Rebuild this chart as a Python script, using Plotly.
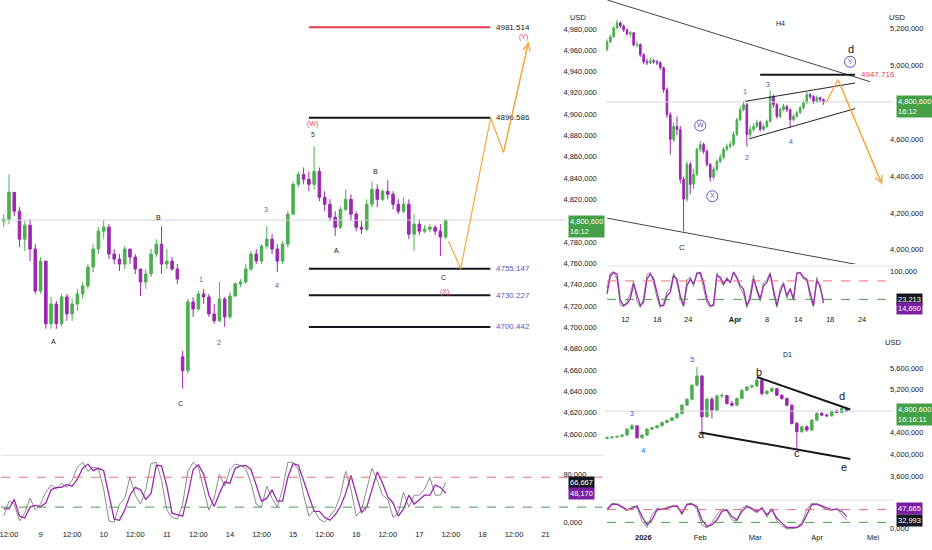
import plotly.graph_objects as go

# ---------------- main chart (XAUUSD, 2h bars) ----------------
main_t = list(range(-2, 168, 2))
main_close = [4801.5, 4826.7, 4809.0, 4782.8, 4795.9, 4773.5, 4734.2, 4762.2, 4703.4, 4722.0,
              4703.4, 4728.6, 4712.7, 4722.0, 4731.4, 4738.9, 4756.6, 4773.5, 4790.3, 4794.0,
              4768.8, 4764.1, 4759.4, 4773.5, 4766.0, 4754.8, 4742.6, 4750.1, 4768.8, 4778.1,
              4759.4, 4762.2, 4754.8, 4745.4, 4659.4, 4723.9, 4717.4, 4731.4, 4728.6, 4712.7,
              4706.2, 4726.7, 4709.9, 4729.5, 4740.8, 4742.6, 4754.8, 4768.8, 4762.2, 4776.3,
              4782.8, 4773.5, 4762.2, 4778.1, 4806.2, 4834.2, 4843.5, 4838.9, 4834.2, 4846.3,
              4822.0, 4815.5, 4803.4, 4794.0, 4810.8, 4820.2, 4806.2, 4794.0, 4792.1, 4815.5,
              4829.5, 4820.2, 4827.7, 4824.9, 4815.5, 4809.0, 4815.5, 4787.5, 4796.8, 4790.3,
              4792.1, 4794.0, 4790.3, 4784.7, 4800.6]
main_high = [4806.2, 4843.5, 4826.7, 4812.7, 4799.6, 4801.5, 4778.1, 4766.0, 4762.2, 4728.6,
             4724.8, 4731.4, 4731.4, 4726.7, 4736.1, 4742.6, 4759.4, 4778.1, 4794.0, 4800.6,
             4796.8, 4773.5, 4768.8, 4776.3, 4773.5, 4768.8, 4754.8, 4754.8, 4773.5, 4782.8,
             4794.9, 4773.5, 4766.0, 4759.4, 4678.1, 4726.7, 4728.6, 4734.2, 4736.1, 4731.4,
             4722.0, 4742.6, 4728.6, 4733.3, 4742.6, 4745.4, 4759.4, 4771.6, 4773.5, 4778.1,
             4794.9, 4787.5, 4778.1, 4780.9, 4809.0, 4837.0, 4846.3, 4850.1, 4846.3, 4869.7,
             4850.1, 4827.7, 4820.2, 4809.0, 4813.6, 4829.5, 4824.9, 4809.0, 4799.6, 4820.2,
             4837.0, 4834.2, 4829.5, 4837.9, 4827.7, 4820.2, 4822.0, 4820.2, 4806.2, 4801.5,
             4795.9, 4796.8, 4795.9, 4796.8, 4801.5]
main_low = [4794.0, 4796.8, 4804.3, 4775.3, 4771.6, 4762.2, 4731.4, 4731.4, 4698.7, 4698.7,
            4698.7, 4700.6, 4706.2, 4706.2, 4715.5, 4726.7, 4736.1, 4751.9, 4768.8, 4782.8,
            4764.1, 4759.4, 4752.9, 4754.8, 4759.4, 4750.1, 4729.5, 4736.1, 4747.3, 4766.0,
            4750.1, 4754.8, 4752.9, 4740.8, 4642.6, 4656.6, 4709.9, 4715.5, 4722.0, 4709.9,
            4703.4, 4705.2, 4700.6, 4708.0, 4728.6, 4737.9, 4740.8, 4752.9, 4759.4, 4759.4,
            4773.5, 4768.8, 4751.9, 4759.4, 4775.3, 4806.2, 4831.4, 4834.2, 4827.7, 4829.5,
            4818.3, 4809.0, 4799.6, 4785.6, 4792.1, 4809.0, 4799.6, 4790.3, 4787.5, 4790.3,
            4812.7, 4812.7, 4818.3, 4820.2, 4810.8, 4806.2, 4807.1, 4782.8, 4771.6, 4786.5,
            4788.4, 4789.3, 4786.5, 4766.9, 4782.8]
main_open = [4799.6] + main_close[:-1]
main_open[34] = 4672.5  # gap down into wave C

main_k = [10, 35, 30, 2, 15, 40, 20, 30, 50, 62, 55, 65, 58, 70, 92, 100, 85, 92, 90, 55,
          2, 0, 30, 40, 75, 45, 30, 55, 98, 100, 70, 20, 8, 5, 30, 85, 100, 92, 55, 20,
          40, 80, 60, 88, 97, 95, 90, 65, 30, 25, 60, 40, 25, 55, 100, 100, 88, 45, 10, 20,
          5, 0, 10, 22, 45, 85, 55, 10, 20, 55, 90, 70, 45, 38, 8, 15, 50, 25, 45, 45,
          55, 75, 45, 45, 66.667]
main_d = [22, 22, 38, 10, 7, 25, 28, 26, 32, 54, 58, 58, 63, 60, 72, 90, 97, 86, 90, 86,
          45, 5, 3, 20, 45, 58, 54, 38, 48, 95, 94, 60, 15, 12, 10, 45, 88, 96, 80, 45,
          26, 48, 67, 65, 90, 94, 95, 88, 60, 35, 40, 54, 35, 35, 75, 98, 95, 70, 42, 18,
          18, 8, 3, 12, 26, 48, 78, 45, 16, 25, 55, 84, 65, 42, 32, 10, 22, 45, 30, 37,
          45, 45, 62, 58, 48.17]

main_tick_t = [0, 12, 24, 36, 48, 60, 72, 84, 96, 108, 120, 132, 144, 156, 168, 180, 192, 204]
main_tick_txt = ["12:00", "9", "12:00", "10", "12:00", "11", "12:00", "14", "12:00", "15",
                 "12:00", "16", "12:00", "17", "12:00", "18", "12:00", "21"]
main_price_ticks = [v for v in range(4600, 5000, 20) if v != 4800]

levels = [4981.514, 4896.586, 4755.147, 4730.227, 4700.442]
level_t = [114, 183]
proj_t = [167.1, 171.7, 183.1, 188.0, 197.5]
proj_p = [4780.9, 4755.1, 4896.6, 4864.1, 4967.8]

# ---------------- H4 inset ----------------
h4_x = list(range(66))
h4_close = [5126, 5153, 5202, 5229, 5212, 5191, 5169, 5175, 5110, 5112,
            5056, 5018, 5013, 5024, 5018, 5013, 4986, 4867, 4732, 4598,
            4668, 4652, 4382, 4274, 4463, 4355, 4409, 4544, 4571, 4533,
            4463, 4393, 4436, 4479, 4500, 4544, 4560, 4571, 4625, 4705,
            4759, 4786, 4625, 4652, 4668, 4689, 4652, 4668, 4695, 4830,
            4786, 4722, 4759, 4776, 4759, 4705, 4722, 4743, 4770, 4797,
            4840, 4830, 4803, 4824, 4813, 4800.6]
h4_high = [5140, 5165, 5210, 5245, 5238, 5220, 5198, 5185, 5180, 5130,
           5118, 5065, 5035, 5040, 5035, 5030, 5022, 4992, 4880, 4745,
           4690, 4722, 4670, 4395, 4480, 4475, 4440, 4555, 4590, 4580,
           4545, 4470, 4450, 4490, 4520, 4555, 4575, 4590, 4640, 4715,
           4775, 4805, 4795, 4670, 4685, 4705, 4700, 4680, 4705, 4865,
           4840, 4795, 4770, 4790, 4785, 4765, 4735, 4755, 4780, 4810,
           4855, 4850, 4838, 4835, 4830, 4820]
h4_low = [5075, 5120, 5148, 5195, 5200, 5180, 5160, 5150, 5100, 5095,
          5045, 5005, 5000, 5005, 5008, 5000, 4975, 4850, 4715, 4516,
          4585, 4620, 4360, 4100, 4260, 4300, 4330, 4400, 4530, 4520,
          4450, 4370, 4380, 4425, 4470, 4490, 4535, 4550, 4560, 4615,
          4695, 4750, 4560, 4610, 4640, 4660, 4640, 4645, 4660, 4690,
          4770, 4710, 4715, 4750, 4745, 4660, 4695, 4715, 4735, 4760,
          4790, 4815, 4790, 4795, 4800, 4785]
h4_open = [5085] + h4_close[:-1]

h4_k = [55, 96, 100, 80, 10, 5, 20, 40, 75, 20, 3, 30, 92, 98, 70, 30, 2, 15, 45, 55,
        96, 70, 25, 5, 78, 85, 60, 99, 95, 55, 15, 3, 15, 97, 80, 62, 85, 70, 100, 80,
        55, 40, 2, 40, 90, 45, 20, 70, 78, 98, 40, 3, 55, 72, 28, 55, 22, 99, 97, 80,
        78, 30, 5, 85, 55, 23.213]
h4_d = [40, 89, 98, 94, 22, 8, 13, 26, 67, 35, 8, 17, 80, 94, 80, 44, 8, 8, 35, 44,
        89, 80, 35, 8, 62, 80, 67, 94, 98, 71, 26, 8, 8, 89, 85, 67, 80, 71, 98, 85,
        62, 53, 8, 26, 80, 53, 26, 62, 71, 94, 53, 8, 44, 67, 35, 53, 26, 94, 98, 85,
        80, 44, 8, 76, 62, 14.69]
h4_tick_x = [5.5, 15.1, 24.4, 38.5, 48.1, 57.4, 67.0, 76.6]
h4_tick_txt = ["12", "18", "24", "<b>Apr</b>", "8", "14", "18", "24"]
h4_price_ticks = [5200, 5000, 4600, 4400, 4200, 4000]
h4_level = 4947.716
h4_proj_x = [65.8, 69.4, 82.6]
h4_proj_p = [4797.1, 4921.2, 4354.7]

# ---------------- D1 inset ----------------
d1_x = list(range(49))
d1_close = [4307, 4319, 4332, 4356, 4467, 4528, 4307, 4356, 4467, 4492,
            4528, 4590, 4627, 4676, 4750, 4910, 5020, 5279, 5451, 4695,
            5020, 4818, 5082, 5090, 4941, 4910, 5033, 5187, 5248, 5266,
            5371, 5125, 5168, 5217, 5094, 5033, 4910, 4572, 4418, 4510,
            4449, 4633, 4756, 4725, 4713, 4799, 4775, 4848, 4800.6]
d1_high = [4335, 4335, 4345, 4370, 4480, 4560, 4540, 4370, 4480, 4510,
           4545, 4605, 4640, 4690, 4770, 4930, 5040, 5300, 5617, 5470,
           5040, 5060, 5110, 5130, 5100, 4990, 5050, 5200, 5265, 5290,
           5414, 5390, 5190, 5240, 5230, 5110, 5050, 4925, 4600, 4530,
           4540, 4650, 4780, 4790, 4760, 4820, 4830, 4870, 4865]
d1_low = [4280, 4295, 4305, 4320, 4345, 4455, 4290, 4280, 4345, 4450,
          4480, 4515, 4575, 4610, 4660, 4740, 4895, 5005, 5260, 4418,
          4680, 4664, 4800, 5040, 4920, 4880, 4895, 5020, 5170, 5220,
          5250, 5090, 5100, 5150, 5080, 5010, 4890, 4550, 4079, 4400,
          4420, 4435, 4620, 4705, 4695, 4700, 4760, 4765, 4790]
d1_open = [4295] + d1_close[:-1]

d1_k = [80, 100, 95, 82, 70, 88, 85, 30, 5, 55, 80, 75, 85, 90, 88, 55, 98, 100, 75, 15,
        3, 25, 55, 78, 70, 35, 30, 80, 92, 75, 62, 85, 45, 80, 30, 12, 0, 0, 5, 25,
        75, 100, 95, 85, 75, 72, 78, 55, 32.993]
d1_d = [74, 96, 96, 87, 74, 80, 90, 48, 16, 35, 74, 78, 80, 87, 90, 61, 94, 97, 87, 35,
        9, 16, 35, 68, 74, 48, 35, 68, 87, 80, 68, 80, 55, 74, 42, 22, 5, 5, 5, 16,
        55, 94, 97, 90, 80, 74, 78, 68, 47.665]
d1_tick_x = [7.26, 18.66, 29.66, 42.06, 53.26]
d1_tick_txt = ["<b>2026</b>", "Feb", "Mar", "Apr", "Mei"]
d1_price_ticks = [5600, 5200, 4400, 4000, 3600]

GREEN = "#4caf50"
PURPLE = "#9c27b0"
ORANGE = "#f5a742"
WAVE = "#5a55c0"
RED = "#ef3b5a"
FONT = "Liberation Sans"


def fmt(v):
    return f"{v:,},000"


fig = go.Figure()


def candles(xs, o, h, l, c, xa, ya):
    fig.add_trace(go.Candlestick(
        x=xs, open=o, high=h, low=l, close=c, xaxis=xa, yaxis=ya,
        increasing=dict(line=dict(color=GREEN, width=1), fillcolor=GREEN),
        decreasing=dict(line=dict(color=PURPLE, width=1), fillcolor=PURPLE),
        showlegend=False, hoverinfo="skip"))


def stoch(xs, k, d, xa, ya):
    fig.add_trace(go.Scatter(x=xs, y=k, mode="lines", xaxis=xa, yaxis=ya,
                             line=dict(color="#8a8a8a", width=1), showlegend=False))
    fig.add_trace(go.Scatter(x=xs, y=d, mode="lines", xaxis=xa, yaxis=ya,
                             line=dict(color=PURPLE, width=1.3), showlegend=False))


def seg(xs, ys, xa, ya, color="#131722", width=1, dash=None):
    fig.add_trace(go.Scatter(x=xs, y=ys, mode="lines", xaxis=xa, yaxis=ya,
                             line=dict(color=color, width=width, dash=dash),
                             showlegend=False, hoverinfo="skip"))


# current price lines
seg([-3, 212], [4800.6, 4800.6], "x", "y", "#d3d6de")
seg([-0.5, 86], [4800.6, 4800.6], "x3", "y3", "#d3d6de")
seg([-0.4, 57.3], [4800.6, 4800.6], "x5", "y5", "#d3d6de")

candles(main_t, main_open, main_high, main_low, main_close, "x", "y")
candles(h4_x, h4_open, h4_high, h4_low, h4_close, "x3", "y3")
candles(d1_x, d1_open, d1_high, d1_low, d1_close, "x5", "y5")

stoch(main_t, main_k, main_d, "x2", "y2")
stoch(h4_x, h4_k, h4_d, "x4", "y4")
stoch(d1_x, d1_k, d1_d, "x6", "y6")

# main chart levels and projection
for i, lv in enumerate(levels):
    seg(level_t, [lv, lv], "x", "y", "#e53950" if i == 0 else "#131722", 2)
seg(proj_t, proj_p, "x", "y", ORANGE, 1.2)

# H4 drawings
seg([0.1, 79.0], [5352.8, 4910.4], "x3", "y3", "#444", 1)
seg([0.1, 77.5], [4171.3, 3912.3], "x3", "y3", "#444", 1)
seg([41.5, 74.5], [4804.1, 4903.4], "x3", "y3", "#222", 1)
seg([42.7, 74.5], [4601.3, 4764.7], "x3", "y3", "#222", 1)
seg([46.0, 74.5], [h4_level, h4_level], "x3", "y3", "#131722", 2)
seg(h4_proj_x, h4_proj_p, "x3", "y3", ORANGE, 1.2)

# D1 drawings
seg([30, 48.7], [5432.6, 4829.9], "x5", "y5", "#131722", 2)
seg([18.66, 48.7], [4405.5, 3913.5], "x5", "y5", "#131722", 2)

# circled wave labels on H4
fig.add_trace(go.Scatter(
    x=[28.0, 31.6, 73.0], y=[4673.0, 4290.0, 5018.3], xaxis="x3", yaxis="y3",
    mode="markers+text", text=["W", "X", "Y"], textposition="middle center",
    textfont=dict(size=7, color=WAVE, family=FONT),
    marker=dict(symbol="circle-open", size=11, color=WAVE, line=dict(width=1)),
    showlegend=False, hoverinfo="skip"))

ann = []


def label(txt, x, y, xr, yr, color="#131722", size=7, **kw):
    ann.append(dict(text=txt, x=x, y=y, xref=xr, yref=yr, showarrow=False,
                    font=dict(color=color, size=size, family=FONT), **kw))


# main wave labels
for txt, x, y, col in [("A", 17.1, 4686.5, "#131722"), ("B", 57.0, 4803.5, "#131722"),
                       ("C", 65.3, 4628.6, "#131722"), ("1", 72.9, 4745.4, WAVE),
                       ("2", 79.8, 4685.6, WAVE), ("3", 97.6, 4810.8, WAVE),
                       ("4", 101.8, 4738.9, WAVE), ("5", 115.5, 4880.9, "#333"),
                       ("(W)", 115.5, 4890.8, RED), ("A", 124.6, 4772.5, "#131722"),
                       ("B", 139.4, 4846.3, "#131722"), ("C", 165.2, 4746.4, "#131722"),
                       ("(X)", 165.6, 4733.3, RED), ("(Y)", 195.6, 4972.5, RED)]:
    label(txt, x, y, "x", "y", col)

for i, lv in enumerate(levels):
    label(f"{lv:.3f}", 184.3, lv, "x", "y", "#131722" if i < 2 else WAVE, 8, xanchor="left")

# H4 labels
for txt, x, y, col, sz in [("H4", 52.0, 5223.3, "#131722", 7), ("d", 73.3, 5085, "#131722", 11),
                           ("1", 41.5, 4856.5, WAVE, 7), ("3", 48.4, 4894.2, WAVE, 7),
                           ("2", 42.1, 4500.4, WAVE, 7), ("4", 55.3, 4586.7, WAVE, 7),
                           ("C", 22.6, 4014.8, "#131722", 8)]:
    label(txt, x, y, "x3", "y3", col, sz)
label(f"{h4_level:.3f}", 75.8, h4_level, "x3", "y3", RED, 8, xanchor="left")

# D1 labels
for txt, x, y, col, sz in [("D1", 36.2, 5850.8, "#131722", 7), ("5", 17.2, 5758.5, "#2962ff", 8),
                           ("3", 5.0, 4756.0, "#2962ff", 7), ("4", 7.3, 4079.5, "#2962ff", 8),
                           ("a", 19.0, 4368.6, "#131722", 11), ("b", 30.5, 5524.8, "#131722", 11),
                           ("c", 38.1, 4018.0, "#131722", 11), ("d", 47.0, 5082.0, "#131722", 11),
                           ("e", 47.5, 3759.8, "#131722", 11)]:
    label(txt, x, y, "x5", "y5", col, sz)

# arrowheads of projections
ann.append(dict(x=proj_t[-1], y=proj_p[-1], ax=proj_t[-2], ay=proj_p[-2], xref="x", yref="y",
                axref="x", ayref="y", showarrow=True, arrowhead=5, arrowsize=1.2,
                arrowwidth=1.2, arrowcolor=ORANGE, text=""))
ann.append(dict(x=h4_proj_x[-1], y=h4_proj_p[-1], ax=h4_proj_x[-2], ay=h4_proj_p[-2],
                xref="x3", yref="y3", axref="x3", ayref="y3", showarrow=True, arrowhead=5,
                arrowsize=1.2, arrowwidth=1.2, arrowcolor=ORANGE, text=""))


# price badges on the scales
def badge(txt, xp, y, yr, bg, shift=0):
    ann.append(dict(text=txt, x=xp, y=y, xref="paper", yref=yr, xanchor="left",
                    yanchor="middle", yshift=shift, showarrow=False, align="left",
                    bgcolor=bg, borderpad=1, font=dict(color="white", size=7.5, family=FONT)))


badge("4,800,600<br>16:12", 0.6094, 4800.6, "y", "#43a047", -6)
badge("66,667", 0.6094, main_k[-1], "y2", "#131722")
badge("48,170", 0.6094, main_d[-1], "y2", "#7b1fa2")
badge("4,800,600<br>16:12", 0.9614, 4800.6, "y3", "#43a047", -5)
badge("23,213", 0.9614, h4_k[-1], "y4", "#131722", 1)
badge("14,690", 0.9614, h4_d[-1], "y4", "#7b1fa2", -5)
badge("4,800,600<br>16:16:11", 0.9614, 4800.6, "y5", "#43a047", -3)
badge("47,665", 0.9614, d1_d[-1], "y6", "#7b1fa2", 8)
badge("32,993", 0.9614, d1_k[-1], "y6", "#131722")

for xp, yp in [(0.6202, 0.98), (0.9732, 0.98), (0.9689, 0.3745)]:
    ann.append(dict(text="USD", x=xp, y=yp, xref="paper", yref="paper", showarrow=False,
                    font=dict(size=7.5, color="#131722", family=FONT)))

# stochastic bands and pane separators
shapes = []
for yr, xr0, xr1 in [("y2", 0, 0.646), ("y4", 0.651, 0.96), ("y6", 0.651, 0.96)]:
    shapes.append(dict(type="line", xref="paper", yref=yr, x0=xr0, x1=xr1, y0=75, y1=75,
                       line=dict(color="#f06a7a", width=1, dash="dash")))
    shapes.append(dict(type="line", xref="paper", yref=yr, x0=xr0, x1=xr1, y0=25, y1=25,
                       line=dict(color="#43a047", width=1, dash="dash")))
for yp, x0, x1 in [(0.16909, 0, 0.647), (0.51455, 0.651, 0.96), (0.08727, 0.651, 0.96)]:
    shapes.append(dict(type="line", xref="paper", yref="paper", x0=x0, x1=x1, y0=yp, y1=yp,
                       line=dict(color="#e0e3eb", width=1)))

tick_font = dict(size=7.5, color="#131722", family=FONT)
ax_common = dict(showgrid=False, zeroline=False, showline=False, ticks="", tickfont=tick_font,
                 fixedrange=True, ticklabeloverflow="allow")
yax_common = dict(ax_common, ticklabelstandoff=-4)
inset_x = [605 / 932, 893 / 932]

fig.update_layout(
    width=932, height=550, margin=dict(l=0, r=0, t=0, b=0),
    paper_bgcolor="white", plot_bgcolor="white", showlegend=False,
    xaxis=dict(domain=[0, 0.6073], range=[-3.04, 211.9], showticklabels=False,
               rangeslider=dict(visible=False), **ax_common),
    yaxis=dict(domain=[0.17273, 1], range=[4581.9, 5007.1], side="right",
               tickvals=main_price_ticks, ticktext=[fmt(v) for v in main_price_ticks], **yax_common),
    xaxis2=dict(domain=[0, 0.6073], range=[-3.04, 211.9], anchor="y2",
                tickvals=main_tick_t, ticktext=main_tick_txt, **ax_common),
    yaxis2=dict(domain=[0.03636, 0.16727], range=[-10, 110], side="right", anchor="x2",
                tickvals=[80, 0], ticktext=["80,000", "0,000"], **yax_common),
    xaxis3=dict(domain=inset_x, range=[-0.5, 85.9], anchor="y3", showticklabels=False,
                rangeslider=dict(visible=False), **ax_common),
    yaxis3=dict(domain=[0.51818, 1], range=[3923.1, 5352.8], side="right", anchor="x3",
                tickvals=h4_price_ticks, ticktext=[fmt(v) for v in h4_price_ticks], **yax_common),
    xaxis4=dict(domain=inset_x, range=[-0.5, 85.9], anchor="y4",
                tickvals=h4_tick_x, ticktext=h4_tick_txt, **ax_common),
    yaxis4=dict(domain=[0.42727, 0.51273], range=[-14.3, 112.7], side="right", anchor="x4",
                tickvals=[100], ticktext=["100,000"], **yax_common),
    xaxis5=dict(domain=inset_x, range=[-0.34, 57.26], anchor="y5", showticklabels=False,
                rangeslider=dict(visible=False), **ax_common),
    yaxis5=dict(domain=[0.08727, 0.37273], range=[3150.9, 6047.6], side="right", anchor="x5",
                tickvals=d1_price_ticks, ticktext=[fmt(v) for v in d1_price_ticks], **yax_common),
    xaxis6=dict(domain=inset_x, range=[-0.34, 57.26], anchor="y6",
                tickvals=d1_tick_x, ticktext=d1_tick_txt, **ax_common),
    yaxis6=dict(domain=[0.03091, 0.08727], range=[-9, 112], side="right", anchor="x6",
                tickvals=[0], ticktext=["0,000"], **yax_common),
    annotations=ann, shapes=shapes,
)

fig.write_html("out.html", config={"displayModeBar": False},
               post_script="document.body.style.margin='0px';")
